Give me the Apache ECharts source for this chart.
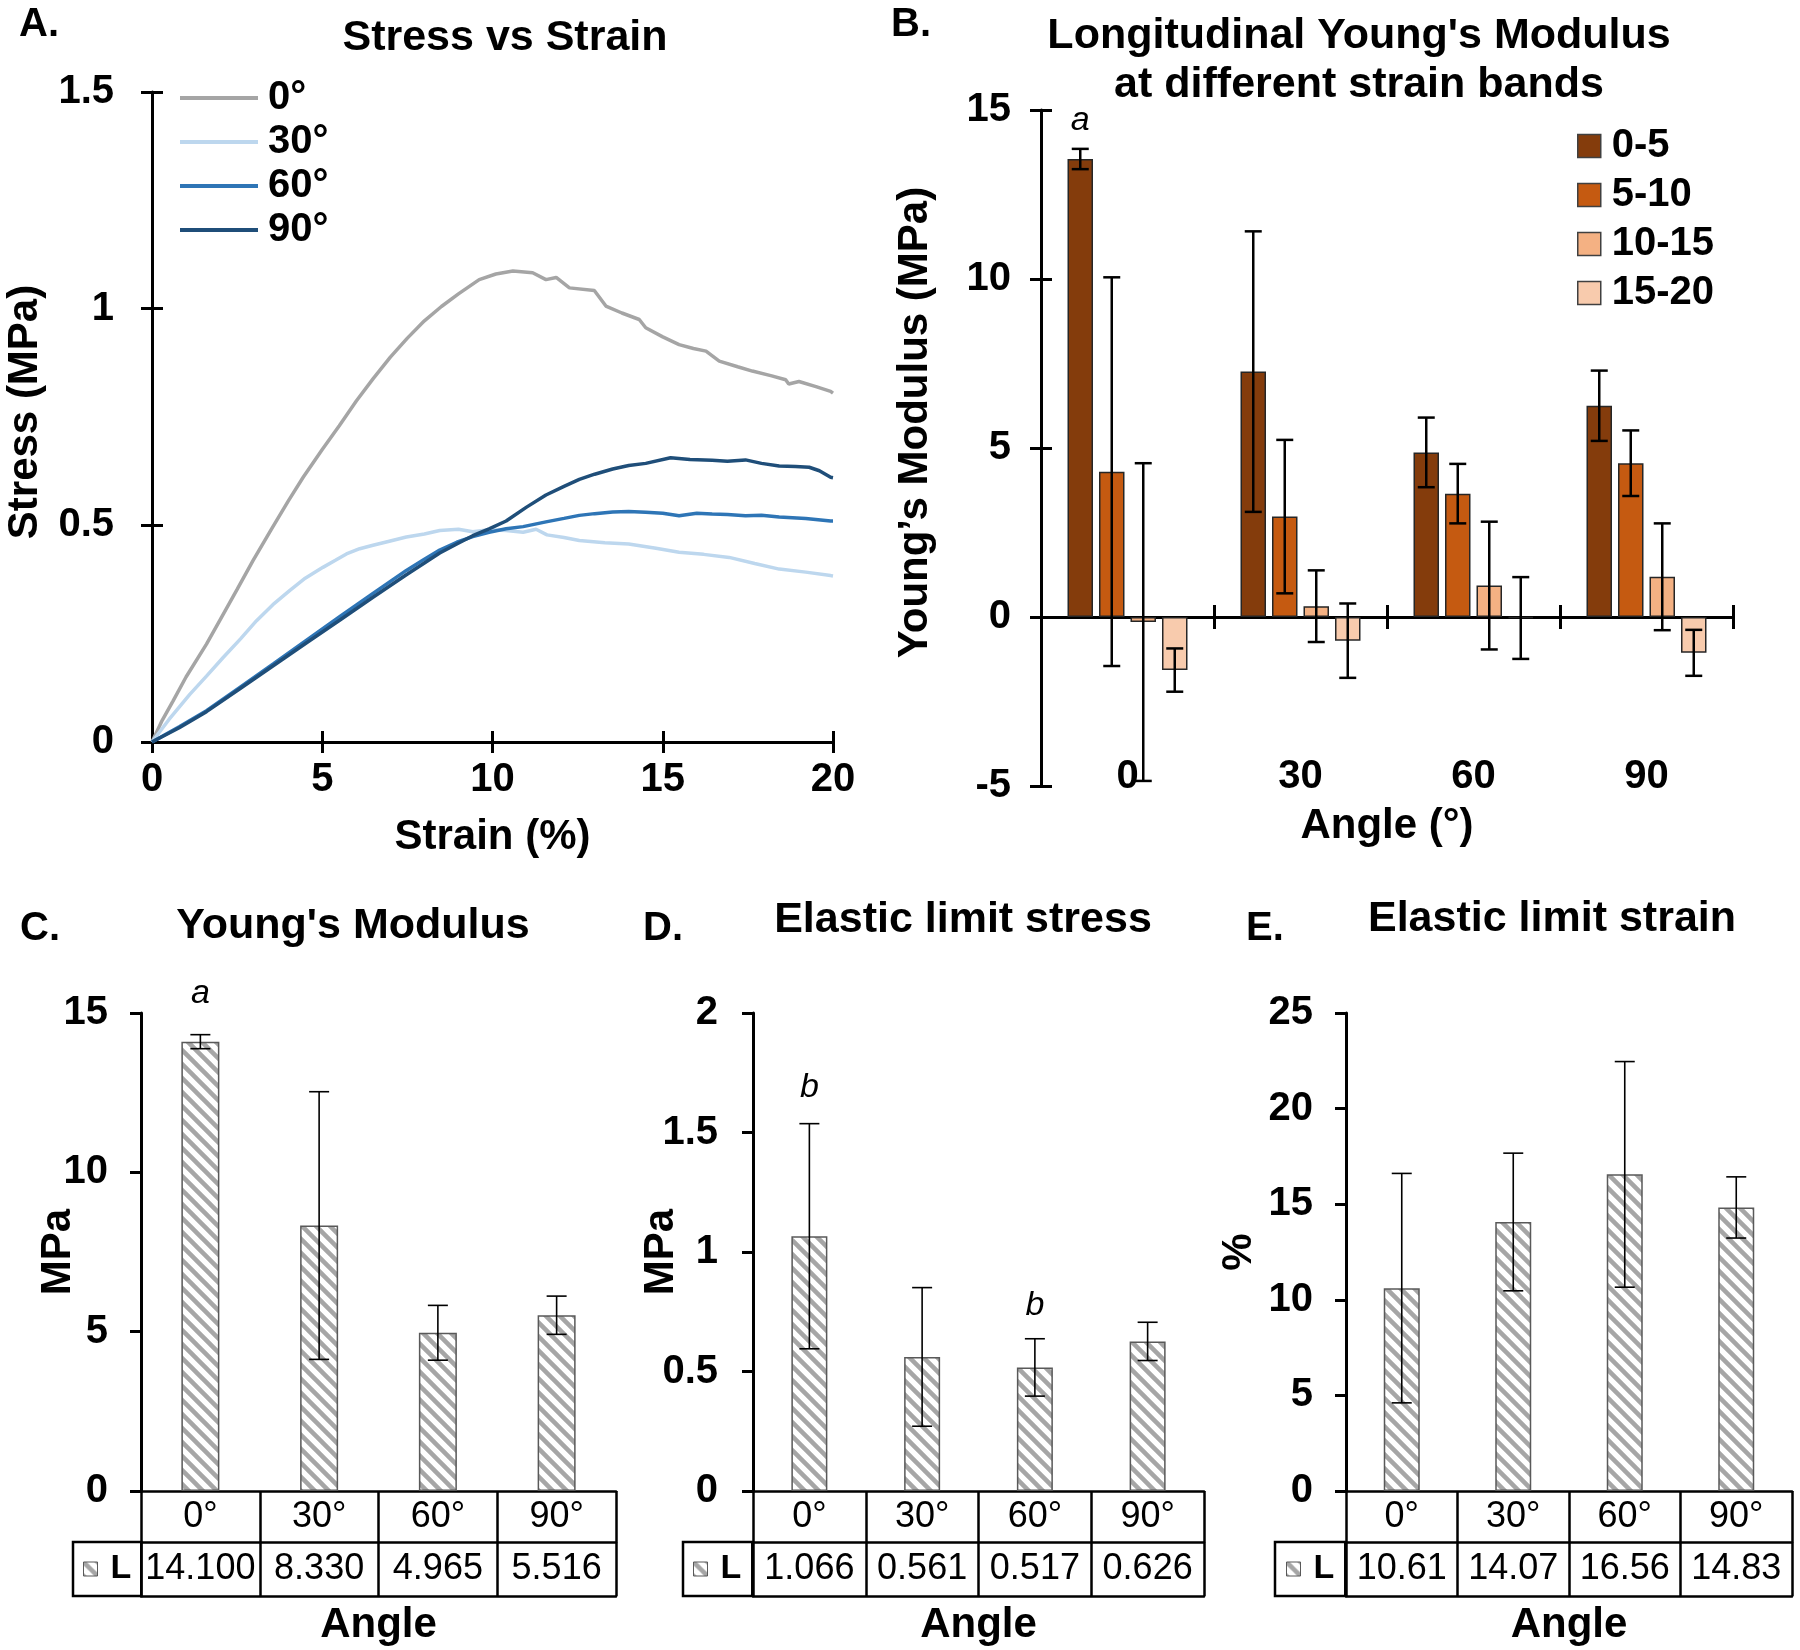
<!DOCTYPE html>
<html><head><meta charset="utf-8">
<script src="https://cdn.jsdelivr.net/npm/echarts@6/dist/echarts.min.js"></script>
<style>html,body{margin:0;padding:0;background:#fff}#c{width:1800px;height:1650px}</style>
</head><body><div id="c"></div>
<script>
// ================= DATA =================
// Panel A: stress-strain curves, [strain %, stress MPa]
const curveNames = ['0°', '30°', '60°', '90°'];
const curve0 = [[0,0],[0.3,0.05],[0.62,0.095],[1,0.15],[1.6,0.226],[2,0.282],[2.5,0.352],[2.97,0.419],[3.5,0.49],[4,0.556],[4.44,0.611],[5,0.675],[5.5,0.73],[6,0.787],[6.49,0.838],[7,0.888],[7.5,0.932],[8,0.972],[8.5,1.005],[9,1.034],[9.61,1.067],[10.1,1.08],[10.6,1.087],[11.18,1.083],[11.57,1.067],[11.87,1.072],[12.26,1.048],[12.99,1.042],[13.33,1.006],[13.8,0.99],[14.31,0.975],[14.5,0.956],[15,0.935],[15.48,0.917],[15.9,0.908],[16.27,0.902],[16.66,0.879],[17.2,0.866],[17.63,0.856],[18.2,0.845],[18.61,0.836],[18.7,0.826],[19.0,0.832],[19.5,0.82],[19.93,0.809],[20,0.805]];
const curve30 = [[0,0],[0.5,0.052],[1.11,0.11],[1.6,0.152],[2.09,0.195],[2.6,0.238],[3.07,0.28],[3.55,0.317],[4.05,0.35],[4.5,0.378],[5.02,0.403],[5.4,0.42],[5.71,0.434],[6.1,0.446],[6.49,0.454],[7,0.464],[7.47,0.473],[8,0.48],[8.45,0.488],[9,0.491],[9.42,0.485],[9.9,0.49],[10.4,0.488],[10.9,0.484],[11.28,0.491],[11.6,0.478],[12.1,0.472],[12.55,0.465],[13.3,0.46],[14.0,0.457],[14.8,0.447],[15.48,0.438],[16.2,0.433],[16.95,0.426],[17.7,0.412],[18.42,0.399],[19.2,0.392],[19.93,0.384],[20,0.383]];
const curve60 = [[0,0],[0.8,0.035],[1.6,0.072],[2.58,0.126],[3.56,0.18],[4.54,0.235],[5.51,0.289],[6.49,0.343],[7.47,0.396],[8,0.422],[8.45,0.443],[8.95,0.461],[9.42,0.474],[9.9,0.484],[10.4,0.492],[10.9,0.497],[11.57,0.508],[12.1,0.516],[12.55,0.523],[13.0,0.527],[13.53,0.531],[14.0,0.532],[14.5,0.53],[15.0,0.528],[15.48,0.522],[16.0,0.528],[16.45,0.526],[16.9,0.525],[17.43,0.522],[17.9,0.523],[18.42,0.519],[19.2,0.516],[19.93,0.51],[20,0.51]];
const curve90 = [[0,0],[0.8,0.033],[1.6,0.07],[2.58,0.123],[3.56,0.176],[4.54,0.229],[5.51,0.281],[6.49,0.334],[7.47,0.386],[8,0.413],[8.45,0.436],[8.95,0.457],[9.42,0.476],[9.9,0.492],[10.4,0.51],[11,0.542],[11.57,0.57],[12.1,0.59],[12.55,0.606],[13.0,0.618],[13.53,0.63],[14.0,0.638],[14.5,0.643],[15.23,0.656],[15.8,0.652],[16.45,0.65],[16.9,0.648],[17.43,0.651],[17.9,0.643],[18.42,0.637],[18.9,0.636],[19.3,0.634],[19.6,0.626],[19.93,0.611],[20,0.61]];

// Panel B: Young's modulus by strain band (MPa), mean and error per angle
const bAngles = ['0', '30', '60', '90'];
const bandNames = ['0-5', '5-10', '10-15', '15-20'];
const band0_5 = [13.55, 7.26, 4.87, 6.25];
const band0_5Err = [0.30, 4.15, 1.03, 1.04];
const band5_10 = [4.30, 2.97, 3.65, 4.55];
const band5_10Err = [5.75, 2.27, 0.88, 0.97];
const band10_15 = [-0.15, 0.32, 0.93, 1.19];
const band10_15Err = [4.70, 1.06, 1.89, 1.58];
const band15_20 = [-1.57, -0.70, -0.03, -1.06];
const band15_20Err = [0.64, 1.10, 1.21, 0.68];
const bNotes = [[0, 0, 14.7]];          // [angle index, band index, y]
const bNoteText = ['a'];

// Panels C-E
const angleLabels = ['0°', '30°', '60°', '90°'];
const ymMean = [14.100, 8.330, 4.965, 5.516];
const ymErr = [0.22, 4.20, 0.86, 0.60];
const ymText = ['14.100', '8.330', '4.965', '5.516'];
const ymNotes = [[0, 0, 15.6]];
const ymNoteText = ['a'];
const elsMean = [1.066, 0.561, 0.517, 0.626];
const elsErr = [0.471, 0.290, 0.120, 0.080];
const elsText = ['1.066', '0.561', '0.517', '0.626'];
const elsNotes = [[0, 0, 1.69], [2, 0, 0.775]];
const elsNoteText = ['b', 'b'];
const elstMean = [10.61, 14.07, 16.56, 14.83];
const elstErr = [6.00, 3.60, 5.90, 1.60];
const elstText = ['10.61', '14.07', '16.56', '14.83'];

// ================= STYLE / BUILD =================
const F = '"Liberation Sans", Arial, Helvetica, sans-serif';
const curveColors = ['#A5A5A5', '#BDD7EE', '#2E75B6', '#1F4E79'];
const bandColors = ['#843C0C', '#C55A11', '#F4B183', '#F8CBAD'];
const BW = 25.5, BGAP = 6;           // panel B bar width / gap
const bStep = BW + BGAP;

function t(size, weight, extra) { return Object.assign({ fontFamily: F, fontSize: size, fontWeight: weight || 'bold', color: '#000' }, extra || {}); }
const LS = (w) => ({ color: '#000', width: w });

function hatch() {
  const s = 14, c = document.createElement('canvas'); c.width = s; c.height = s;
  const g = c.getContext('2d');
  g.fillStyle = '#fff'; g.fillRect(0, 0, s, s);
  g.strokeStyle = '#A6A6A6'; g.lineWidth = 4.5; g.beginPath();
  g.moveTo(-s, -s); g.lineTo(2 * s, 2 * s);
  g.moveTo(-s, 0); g.lineTo(s, 2 * s);
  g.moveTo(0, -s); g.lineTo(2 * s, s);
  g.stroke();
  return c;
}
const hatchFill = { image: hatch(), repeat: 'repeat' };

function errorBars(capHalf, lw, step) {
  return function (params, api) {
    const c = api.value(0), m = api.value(1), e = api.value(2), k = api.value(3);
    const off = step ? (k - 1.5) * step : 0;
    const tp = api.coord([c, m + e]), bt = api.coord([c, m - e]);
    const x = tp[0] + off;
    const st = { stroke: '#000', lineWidth: lw };
    return { type: 'group', children: [
      { type: 'line', shape: { x1: x, y1: tp[1], x2: x, y2: bt[1] }, style: st },
      { type: 'line', shape: { x1: x - capHalf, y1: tp[1], x2: x + capHalf, y2: tp[1] }, style: st },
      { type: 'line', shape: { x1: x - capHalf, y1: bt[1], x2: x + capHalf, y2: bt[1] }, style: st }
    ] };
  };
}
function notes(texts, step) {
  return function (params, api) {
    const c = api.value(0), k = api.value(1), y = api.value(2);
    const p = api.coord([c, y]);
    const off = step ? (k - 1.5) * step : 0;
    return { type: 'text', x: p[0] + off, y: p[1], style: { text: texts[params.dataIndex], font: 'italic 34px ' + F, fill: '#000', align: 'center', verticalAlign: 'middle' } };
  };
}
function errData(means, errs, k) { return means.map((m, i) => [i, m, errs[i], k || 0]); }

function valueY(g, min, max, interval, name, gap, margin, pad) {
  return { gridIndex: g, type: 'value', min: min, max: max, interval: interval, position: 'left',
    axisLine: { show: true, onZero: false, lineStyle: LS(3) },
    axisTick: { show: true, length: 11, lineStyle: LS(3) },
    axisLabel: t(40, 'bold', { margin: margin }),
    splitLine: { show: false },
    name: name, nameLocation: 'middle', nameGap: gap, nameMoveOverlap: false,
    nameTextStyle: t(42, 'bold', { padding: pad || 0 }) };
}
function innerY(g, min, max, interval, len) {
  return { gridIndex: g, type: 'value', min: min, max: max, interval: interval, position: 'left',
    axisLine: { show: false, onZero: false }, axisTick: { show: true, inside: true, length: len, lineStyle: LS(3) },
    axisLabel: { show: false }, splitLine: { show: false } };
}
function tableAxes(g, vals) {
  return [
    { gridIndex: g, type: 'category', data: angleLabels, position: 'bottom',
      axisLine: { show: true, onZero: false, lineStyle: LS(2.5) },
      axisTick: { show: true, interval: 0, length: 105, lineStyle: LS(2.5) },
      axisLabel: t(36, 'normal', { interval: 0, margin: 8 }), splitLine: { show: false } },
    { gridIndex: g, type: 'category', data: angleLabels, position: 'bottom', offset: 51,
      axisLine: { show: true, onZero: false, lineStyle: LS(2.5) }, axisTick: { show: false },
      axisLabel: t(36, 'normal', { interval: 0, margin: 9, formatter: (v, i) => vals[i] }), splitLine: { show: false } },
    { gridIndex: g, type: 'category', data: angleLabels, position: 'bottom', offset: 105,
      axisLine: { show: true, onZero: false, lineStyle: LS(2.5) }, axisTick: { show: false },
      axisLabel: { show: false }, splitLine: { show: false },
      name: 'Angle', nameLocation: 'middle', nameGap: 8, nameMoveOverlap: false, nameTextStyle: t(42) }
  ];
}
function lLegend(left, pad) {
  return { data: ['L'], left: left, top: 1542, orient: 'horizontal', padding: pad,
    borderColor: '#000', borderWidth: 2.5, icon: 'rect', itemWidth: 14, itemHeight: 14,
    itemStyle: { borderColor: '#595959', borderWidth: 1 }, selectedMode: false,
    textStyle: t(34, 'bold', { lineHeight: 36, padding: [0, 0, 0, 8] }) };
}
function gText(text, x, y, size, align) {
  return { type: 'text', x: x, y: y, style: { text: text, font: 'bold ' + size + 'px ' + F, fill: '#000', align: align || 'center', verticalAlign: 'middle' } };
}

const curves = [curve0, curve30, curve60, curve90];
const bands = [band0_5, band5_10, band10_15, band15_20];
const bandErrs = [band0_5Err, band5_10Err, band10_15Err, band15_20Err];

const xAxes = [
  // A (0,1)
  { gridIndex: 0, type: 'value', min: 0, max: 20, interval: 5, position: 'bottom',
    axisLine: { show: true, onZero: false, lineStyle: LS(3) }, axisTick: { show: true, length: 11, lineStyle: LS(3) },
    axisLabel: t(40, 'bold', { margin: 18 }), splitLine: { show: false },
    name: 'Strain (%)', nameLocation: 'middle', nameGap: 74, nameMoveOverlap: false, nameTextStyle: t(42) },
  { gridIndex: 0, type: 'value', min: 0, max: 20, interval: 5, position: 'bottom',
    axisLine: { show: false, onZero: false }, axisTick: { show: true, inside: true, length: 11, lineStyle: LS(3) },
    axisLabel: { show: false }, splitLine: { show: false } },
  // B (2,3,4)
  { gridIndex: 1, type: 'category', data: bAngles, position: 'bottom',
    axisLine: { show: true, onZero: true, lineStyle: LS(3) }, axisTick: { show: true, length: 12, lineStyle: LS(3) },
    axisLabel: { show: false }, splitLine: { show: false } },
  { gridIndex: 1, type: 'category', data: bAngles, position: 'bottom',
    axisLine: { show: false, onZero: true }, axisTick: { show: true, inside: true, length: 12, lineStyle: LS(3) },
    axisLabel: { show: false }, splitLine: { show: false } },
  { gridIndex: 1, type: 'category', data: bAngles, position: 'bottom',
    axisLine: { show: false, onZero: false }, axisTick: { show: false },
    axisLabel: t(40, 'bold', { margin: -29, interval: 0 }), splitLine: { show: false },
    name: 'Angle (°)', nameLocation: 'middle', nameGap: 19, nameMoveOverlap: false, nameTextStyle: t(42) }
].concat(tableAxes(2, ymText), tableAxes(3, elsText), tableAxes(4, elstText));

const yAxes = [
  valueY(0, 0, 1.5, 0.5, 'Stress (MPa)', 106, 38, [0, 0, 0, 10]),
  innerY(0, 0, 1.5, 0.5, 11),
  valueY(1, -5, 15, 5, 'Young’s Modulus (MPa)', 105, 30, [0, 0, 0, 51]),
  innerY(1, -5, 15, 5, 11),
  valueY(2, 0, 15, 5, 'MPa', 62, 33),
  valueY(3, 0, 2, 0.5, 'MPa', 71, 35),
  valueY(4, 0, 25, 5, '%', 86, 33)
];

const series = [];
curves.forEach((d, i) => series.push({ name: curveNames[i], type: 'line', xAxisIndex: 0, yAxisIndex: 0, data: d,
  showSymbol: false, symbol: 'none', color: curveColors[i], itemStyle: { color: curveColors[i] },
  lineStyle: { color: curveColors[i], width: 3.5 }, z: 2 + i }));
bands.forEach((d, i) => series.push({ name: bandNames[i], type: 'bar', xAxisIndex: 2, yAxisIndex: 2, data: d,
  barWidth: BW, barGap: (BGAP / BW * 100) + '%',
  itemStyle: { color: bandColors[i], borderColor: '#262626', borderWidth: 1.5 } }));
series.push({ type: 'custom', xAxisIndex: 2, yAxisIndex: 2, z: 5, encode: { x: 0, y: 1 },
  renderItem: errorBars(8.5, 2.5, bStep),
  data: [].concat(...bands.map((d, k) => errData(d, bandErrs[k], k))) });
series.push({ type: 'custom', xAxisIndex: 2, yAxisIndex: 2, z: 5, encode: { x: 0, y: 2 },
  renderItem: notes(bNoteText, bStep), data: bNotes });

const panelCDE = [
  { x: 5, y: 4, mean: ymMean, err: ymErr, bw: 38, notes: ymNotes, noteText: ymNoteText },
  { x: 8, y: 5, mean: elsMean, err: elsErr, bw: 36, notes: elsNotes, noteText: elsNoteText },
  { x: 11, y: 6, mean: elstMean, err: elstErr, bw: 36, notes: [], noteText: [] }
];
panelCDE.forEach(p => {
  series.push({ name: 'L', type: 'bar', xAxisIndex: p.x, yAxisIndex: p.y, data: p.mean, barWidth: p.bw,
    itemStyle: { color: hatchFill, borderColor: '#595959', borderWidth: 1.5 } });
  series.push({ type: 'custom', xAxisIndex: p.x, yAxisIndex: p.y, z: 5, encode: { x: 0, y: 1 },
    renderItem: errorBars(10, 1.6, 0), data: errData(p.mean, p.err) });
  if (p.notes.length) series.push({ type: 'custom', xAxisIndex: p.x, yAxisIndex: p.y, z: 5, encode: { x: 0, y: 2 },
    renderItem: notes(p.noteText, 0), data: p.notes });
});

const option = {
  backgroundColor: '#fff',
  animation: false,
  grid: [
    { left: 152, top: 92, width: 681, height: 650, outerBoundsMode: 'none', containLabel: false },
    { left: 1041, top: 110, width: 692, height: 676, outerBoundsMode: 'none', containLabel: false },
    { left: 141, top: 1013, width: 475, height: 478, outerBoundsMode: 'none', containLabel: false },
    { left: 753, top: 1013, width: 451, height: 478, outerBoundsMode: 'none', containLabel: false },
    { left: 1346, top: 1013, width: 446, height: 478, outerBoundsMode: 'none', containLabel: false }
  ],
  xAxis: xAxes,
  yAxis: yAxes,
  legend: [
    { data: curveNames, orient: 'vertical', left: 180, top: 78, icon: 'rect', itemWidth: 78, itemHeight: 4, itemGap: 4,
      selectedMode: false, padding: 0, textStyle: t(40, 'bold', { lineHeight: 40, padding: [0, 0, 0, 5] }) },
    { data: bandNames, orient: 'vertical', left: 1577, top: 126, icon: 'rect', itemWidth: 23, itemHeight: 23, itemGap: 9,
      selectedMode: false, padding: 0, itemStyle: { borderColor: '#404040', borderWidth: 1.5 },
      textStyle: t(40, 'bold', { lineHeight: 40, padding: [0, 0, 0, 6] }) },
    lLegend(73, [9, 10, 9, 10]),
    lLegend(683, [9, 11, 9, 10]),
    lLegend(1275, [9, 11, 9, 11])
  ],
  graphic: [
    gText('A.', 19, 25, 40, 'left'),
    gText('Stress vs Strain', 505, 38, 43),
    gText('B.', 891, 25, 40, 'left'),
    gText("Longitudinal Young's Modulus", 1359, 36, 43),
    gText('at different strain bands', 1359, 85, 43),
    gText('C.', 20, 929, 40, 'left'),
    gText("Young's Modulus", 353, 926, 43),
    gText('D.', 643, 929, 40, 'left'),
    gText('Elastic limit stress', 963, 920, 43),
    gText('E.', 1246, 929, 40, 'left'),
    gText('Elastic limit strain', 1552, 919, 43)
  ],
  series: series
};

const chart = echarts.init(document.getElementById('c'), null, { renderer: 'canvas', width: 1800, height: 1650 });
chart.setOption(option);
</script></body></html>
